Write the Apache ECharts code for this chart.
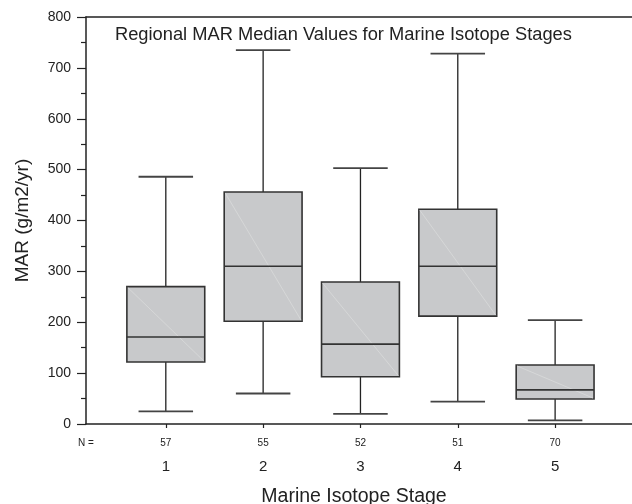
<!DOCTYPE html>
<html>
<head>
<meta charset="utf-8">
<script src="https://cdn.jsdelivr.net/npm/echarts@6/dist/echarts.min.js"></script>
<style>html,body{margin:0;padding:0;background:#fff}#c{width:632px;height:504px}</style>
</head>
<body>
<div id="c"></div>
<script>
const stages = [1, 2, 3, 4, 5];
const nCounts = [57, 55, 52, 51, 70];
const whiskerLow = [25, 60, 20, 44, 7];
const q1 = [122, 202, 93, 212, 49];
const median = [171, 310, 157, 310, 67];
const q3 = [270, 456, 279, 422, 116];
const whiskerHigh = [486, 735, 503, 728, 204];
const yTicks = [0, 100, 200, 300, 400, 500, 600, 700, 800];

const X_MIN = 0.18, X_MAX = 5.79;
const FONT = 'Liberation Sans, Arial, Helvetica, sans-serif';
const INK = '#222';

const data = stages.map((s, i) => [s, whiskerLow[i], q1[i], median[i], q3[i], whiskerHigh[i]]);

const chart = echarts.init(document.getElementById('c'), null, {renderer: 'canvas'});

function renderItem(params, api) {
  const x = api.value(0);
  const pLo = api.coord([x, api.value(1)]);
  const pQ1 = api.coord([x, api.value(2)]);
  const pMed = api.coord([x, api.value(3)]);
  const pQ3 = api.coord([x, api.value(4)]);
  const pHi = api.coord([x, api.value(5)]);
  const hb = api.size([0.8, 0])[0] / 2;
  const hc = api.size([0.56, 0])[0] / 2;
  const cx = pMed[0];
  const lineStyle = {stroke: INK, lineWidth: 1.3, fill: null};
  const capStyle = {stroke: '#444', lineWidth: 1.8, fill: null};
  return {
    type: 'group',
    children: [
      {type: 'line', shape: {x1: cx, y1: pHi[1], x2: cx, y2: pQ3[1]}, style: lineStyle},
      {type: 'line', shape: {x1: cx, y1: pQ1[1], x2: cx, y2: pLo[1]}, style: lineStyle},
      {type: 'line', shape: {x1: cx - hc, y1: pHi[1], x2: cx + hc, y2: pHi[1]}, style: capStyle},
      {type: 'line', shape: {x1: cx - hc, y1: pLo[1], x2: cx + hc, y2: pLo[1]}, style: capStyle},
      {type: 'rect', shape: {x: cx - hb, y: pQ3[1], width: 2 * hb, height: pQ1[1] - pQ3[1]},
        style: {fill: '#c8c9cb', stroke: '#333', lineWidth: 1.6}},
      {type: 'line', shape: {x1: cx - hb + 1, y1: pQ3[1] + 1, x2: cx + hb - 1, y2: pQ1[1] - 1},
        style: {stroke: '#d9dadb', lineWidth: 0.8}},
      {type: 'line', shape: {x1: cx - hb, y1: pMed[1], x2: cx + hb, y2: pMed[1]},
        style: {stroke: '#333', lineWidth: 1.6}}
    ]
  };
}

const option = {
  animation: false,
  backgroundColor: '#fff',
  title: {
    text: 'Regional MAR Median Values for Marine Isotope Stages',
    left: 115, top: 26, padding: 0,
    textStyle: {fontFamily: FONT, fontSize: 18.3, fontWeight: 'normal', color: INK}
  },
  grid: {
    left: 86, right: 0, top: 17, bottom: 80,
    outerBoundsMode: 'none', containLabel: false, show: false
  },
  xAxis: [
    {
      type: 'value', min: X_MIN, max: X_MAX, position: 'bottom',
      name: 'Marine Isotope Stage', nameLocation: 'middle', nameGap: 63,
      nameTextStyle: {fontFamily: FONT, fontSize: 19.5, color: INK, padding: [0, 10, 0, 0]},
      axisLine: {show: true, onZero: false, lineStyle: {color: INK, width: 1.5}},
      axisTick: {show: true, customValues: stages, length: 4, lineStyle: {color: INK, width: 1.2}},
      axisLabel: {customValues: stages, margin: 35, fontFamily: FONT, fontSize: 15, color: INK,
        formatter: v => String(v)},
      splitLine: {show: false}
    },
    {
      type: 'value', min: X_MIN, max: X_MAX, position: 'bottom',
      axisLine: {show: false}, axisTick: {show: false},
      axisLabel: {customValues: [X_MIN].concat(stages), margin: 14.5, fontFamily: FONT, fontSize: 10, color: INK,
        formatter: v => (v < 0.5 ? 'N =' : String(nCounts[stages.indexOf(v)]))},
      splitLine: {show: false}
    },
    {
      type: 'value', min: X_MIN, max: X_MAX, position: 'top',
      axisLine: {show: true, onZero: false, lineStyle: {color: INK, width: 1.5}},
      axisTick: {show: false}, axisLabel: {show: false}, splitLine: {show: false}
    }
  ],
  yAxis: {
    type: 'value', min: 0, max: 800, interval: 100,
    name: 'MAR (g/m2/yr)', nameLocation: 'middle', nameGap: 54,
    nameTextStyle: {fontFamily: FONT, fontSize: 19, color: INK},
    axisLine: {show: true, lineStyle: {color: INK, width: 1.5}},
    axisTick: {show: true, length: 9, lineStyle: {color: INK, width: 1.2}},
    minorTick: {show: true, splitNumber: 2, length: 5, lineStyle: {color: INK, width: 1.2}},
    axisLabel: {margin: 15, fontFamily: FONT, fontSize: 14, color: INK,
      formatter: v => (yTicks.indexOf(v) >= 0 ? String(v) : '')},
    splitLine: {show: false}
  },
  series: [{
    type: 'custom',
    xAxisIndex: 0, yAxisIndex: 0,
    renderItem: renderItem,
    encode: {x: 0, y: [1, 2, 3, 4, 5]},
    data: data,
    clip: false
  }]
};
chart.setOption(option);
</script>
</body>
</html>
